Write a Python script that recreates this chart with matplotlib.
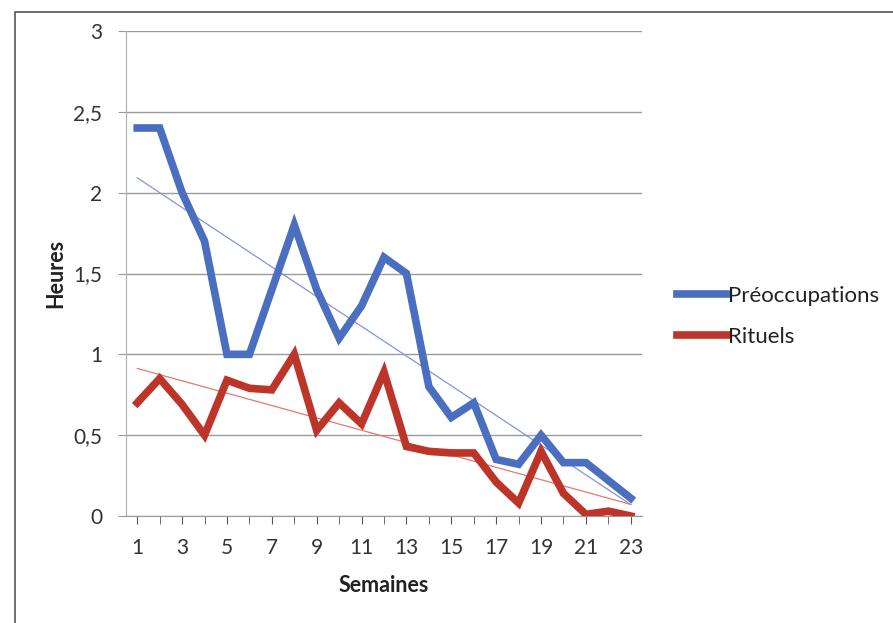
import matplotlib
matplotlib.use('Agg')
import matplotlib.pyplot as plt
from matplotlib.patches import Rectangle
import numpy as np

plt.rcParams['font.family'] = ['Lato', 'DejaVu Sans']

semaines = list(range(1, 24))
preoccupations = [2.4, 2.4, 2.0, 1.7, 1.0, 1.0, 1.4, 1.8, 1.4, 1.1, 1.3, 1.6,
                  1.5, 0.8, 0.61, 0.7, 0.35, 0.32, 0.5, 0.33, 0.33, 0.22, 0.11]
rituels = [0.7, 0.85, 0.69, 0.5, 0.84, 0.79, 0.78, 1.0, 0.53, 0.7, 0.57, 0.89,
           0.43, 0.4, 0.39, 0.39, 0.21, 0.08, 0.4, 0.14, 0.01, 0.03, 0.0]
yticks = [0, 0.5, 1, 1.5, 2, 2.5, 3]
ylabels = ['0', '0,5', '1', '1,5', '2', '2,5', '3']

blue = '#4a6fc0'
red = '#bd3529'

fig = plt.figure(figsize=(8.93, 6.23), dpi=100)
# scanned frame around the chart
fig.patches.append(Rectangle((15 / 893, -0.01), 1.0, 1 - 12 / 623 + 0.01,
                             transform=fig.transFigure, fill=False,
                             edgecolor='#555555', linewidth=1.2))

ax = fig.add_axes([126 / 893, 1 - 516 / 623, (642 - 126) / 893, (516 - 31) / 623])

x = np.array(semaines)
ax.plot(x, preoccupations, color=blue, linewidth=5.5, solid_joinstyle='miter',
        label='Préoccupations', zorder=3)
ax.plot(x, rituels, color=red, linewidth=5.5, solid_joinstyle='miter',
        label='Rituels', zorder=3)

# linear trend lines
for serie, col in [(preoccupations, '#7f97d8'), (rituels, '#e07a70')]:
    a, b = np.polyfit(x, serie, 1)
    ax.plot(x, a * x + b, color=col, linewidth=0.9, zorder=2)

ax.set_xlim(0.5, 23.5)
ax.set_ylim(0, 3)
ax.set_yticks(yticks)
ax.set_yticklabels(ylabels)
ax.set_xticks(semaines, minor=True)
ax.set_xticks(semaines[::2])
ax.yaxis.grid(True, color='#9a9a9a', linewidth=1.0)
ax.set_axisbelow(True)
for s in ['top', 'right']:
    ax.spines[s].set_visible(False)
ax.spines['left'].set_color('#b0b0b0')
ax.spines['bottom'].set_color('#9a9a9a')
ax.tick_params(axis='y', length=6, color='#9a9a9a', labelsize=15, pad=11,
               labelcolor='#333333')
ax.tick_params(axis='x', which='both', length=6, color='#555555', labelsize=15,
               pad=10, labelcolor='#333333')

ax.set_xlabel('Semaines', fontsize=15.5, fontweight='bold', labelpad=12,
              color='#222222')
ax.set_ylabel('Heures', fontsize=15.5, fontweight='bold', labelpad=5,
              color='#222222')

ax.legend(loc='center left', bbox_to_anchor=(1.068, 0.412), frameon=False,
          fontsize=16, handlelength=2.3, handletextpad=0.0, labelspacing=0.95,
          borderaxespad=0, borderpad=0, labelcolor='#222222')

fig.savefig('out.png', dpi=100)
